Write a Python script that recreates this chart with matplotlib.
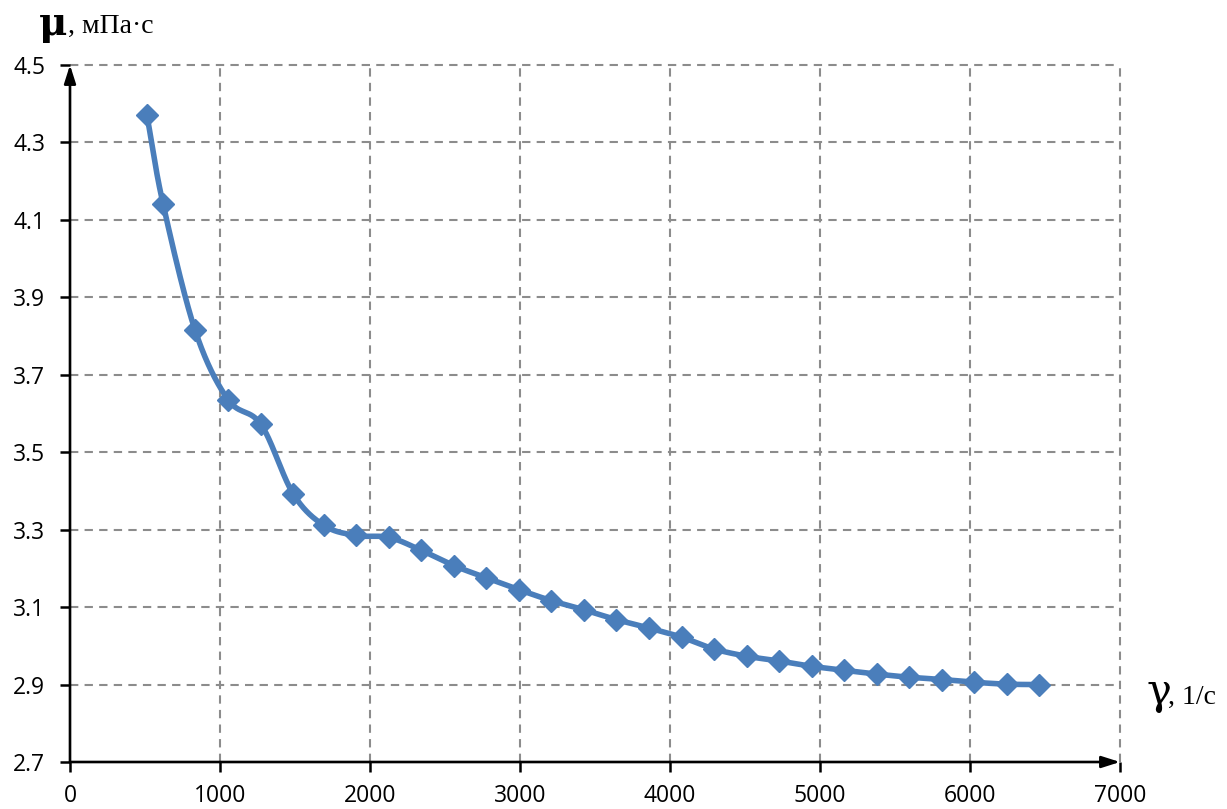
import numpy as np
import matplotlib
matplotlib.use("Agg")
import matplotlib.pyplot as plt

# Shear rate (1/s) and dynamic viscosity (mPa·s)
shear_rate = [513, 620, 833, 1053, 1273, 1487, 1693, 1907, 2127, 2340,
              2560, 2773, 2993, 3207, 3427, 3640, 3860, 4080, 4293, 4513,
              4727, 4947, 5160, 5380, 5593, 5813, 6027, 6247, 6460]
viscosity = [4.370, 4.142, 3.816, 3.636, 3.572, 3.393, 3.311, 3.285, 3.280, 3.247,
             3.207, 3.176, 3.145, 3.117, 3.093, 3.068, 3.046, 3.022, 2.992, 2.973,
             2.961, 2.947, 2.937, 2.927, 2.919, 2.913, 2.906, 2.901, 2.900]

x_ticks = [0, 1000, 2000, 3000, 4000, 5000, 6000, 7000]
y_ticks = [2.7, 2.9, 3.1, 3.3, 3.5, 3.7, 3.9, 4.1, 4.3, 4.5]

LINE_COLOR = "#4A7EBB"
GRID_COLOR = "#8C8C8C"
TICK_FONT = "Open Sans"


def smooth_curve(x, y, sx, sy, n=30):
    """Catmull-Rom spline through the points, computed in scaled coordinates."""
    px = np.asarray(x, float) / sx
    py = np.asarray(y, float) / sy
    P = np.column_stack([px, py])
    P = np.vstack([2 * P[0] - P[1], P, 2 * P[-1] - P[-2]])
    out = []
    t = np.linspace(0, 1, n, endpoint=False)[:, None]
    for i in range(1, len(P) - 2):
        p0, p1, p2, p3 = P[i - 1], P[i], P[i + 1], P[i + 2]
        seg = 0.5 * ((2 * p1) + (-p0 + p2) * t
                     + (2 * p0 - 5 * p1 + 4 * p2 - p3) * t ** 2
                     + (-p0 + 3 * p1 - 3 * p2 + p3) * t ** 3)
        out.append(seg)
    out.append(P[-2][None, :])
    out = np.vstack(out)
    return out[:, 0] * sx, out[:, 1] * sy


fig = plt.figure(figsize=(12.27, 8.09), dpi=100)
ax = fig.add_axes([70 / 1227, 1 - 762 / 809, 1050 / 1227, 697 / 809])

ax.set_xlim(0, 7000)
ax.set_ylim(2.7, 4.5)

# grid
for xv in x_ticks[1:]:
    ax.plot([xv, xv], [2.7, 4.5], color=GRID_COLOR, lw=1.5,
            dashes=(4.0, 3.0), zorder=1, clip_on=False)
for yv in y_ticks[1:]:
    ax.plot([0, 7000], [yv, yv], color=GRID_COLOR, lw=1.5,
            dashes=(4.0, 3.0), zorder=1, clip_on=False)

# curve
sx, sy = 7000 / 1050, 1.8 / 697
cx, cy = smooth_curve(shear_rate, viscosity, sx, sy)
ax.plot(cx, cy, color=LINE_COLOR, lw=4.0, zorder=3, solid_capstyle="round")
ax.plot(shear_rate, viscosity, linestyle="none", marker="D", markersize=11.5,
        color=LINE_COLOR, zorder=4)

# axes with arrows
for s in ["top", "right", "left", "bottom"]:
    ax.spines[s].set_visible(False)

arrow = dict(arrowstyle="-|>,head_length=1.1,head_width=0.35",
             color="black", lw=1.9, shrinkA=0, shrinkB=0)
ax.annotate("", xy=(0, 1.0), xytext=(0, 0), xycoords="axes fraction",
            arrowprops=arrow)
ax.annotate("", xy=(1.0, 0), xytext=(0, 0), xycoords="axes fraction",
            arrowprops=arrow)

ax.set_xticks(x_ticks)
ax.set_yticks(y_ticks)
ax.set_xticklabels([str(v) for v in x_ticks])
ax.set_yticklabels([f"{v:.1f}" for v in y_ticks])
ax.tick_params(axis="both", direction="out", length=7, width=1.8,
               labelsize=16.5, color="black")
ax.tick_params(axis="x", pad=9)
ax.tick_params(axis="y", pad=11)
for lab in ax.get_xticklabels() + ax.get_yticklabels():
    lab.set_fontfamily(TICK_FONT)

# axis titles
fig.text(39 / 1227, 1 - 24 / 809, "μ", fontsize=28, fontweight="bold",
         family="DejaVu Serif", ha="left", va="center")
fig.text(68 / 1227, 1 - 26 / 809, ", мПа·с", fontsize=20,
         family="Liberation Serif", ha="left", va="center")
fig.text(1146 / 1227, 1 - 692 / 809, "γ", fontsize=30,
         family="DejaVu Serif", ha="left", va="center")
fig.text(1168 / 1227, 1 - 697 / 809, ", 1/с", fontsize=20,
         family="Liberation Serif", ha="left", va="center")

fig.savefig("out.png", dpi=100)
